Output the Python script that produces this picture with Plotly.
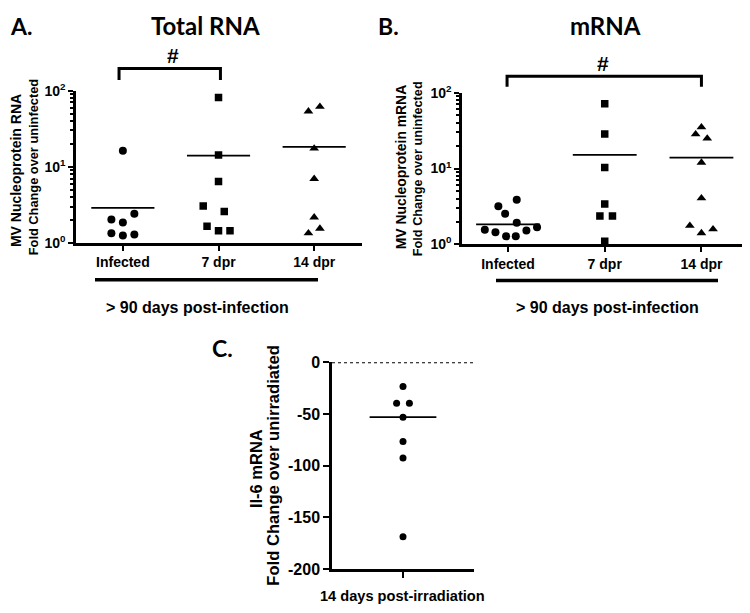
import plotly.graph_objects as go

# ---- data ----
groups = ['Infected', '7 dpr', '14 dpr']

# A. Total RNA (fold change over uninfected)
a_infected = [16.2, 2.02, 1.85, 2.41, 1.34, 1.25, 1.29]
a_7dpr = [81.5, 14.3, 6.4, 3.05, 2.58, 1.65, 1.44, 1.44]
a_14dpr = [53.5, 61.7, 17.4, 6.93, 2.16, 1.34, 1.54]
a_center = [2.88, 14.0, 18.2]

# B. mRNA (fold change over uninfected)
b_infected = [1.56, 1.45, 1.28, 1.28, 1.53, 1.68, 1.93, 2.54, 3.18, 3.87]
b_7dpr = [71.1, 28.6, 10.3, 3.41, 2.37, 2.37, 1.10]
b_14dpr = [35.1, 28.3, 24.9, 12.0, 4.07, 1.77, 1.41, 1.59]
b_center = [1.84, 15.1, 13.9]

# C. Il-6 mRNA fold change over unirradiated
c_values = [-23.4, -39.7, -39.7, -53.1, -76.6, -92.5, -168.8]
c_center = -53.1

log_ticks = [1, 10, 100]
log_ticktext = ['<b>10<sup>0</sup></b>', '<b>10<sup>1</sup></b>', '<b>10<sup>2</sup></b>']
log_minor = [2, 3, 4, 5, 6, 7, 8, 9, 20, 30, 40, 50, 60, 70, 80, 90]
c_ticks = [0, -50, -100, -150, -200]

# horizontal scatter of points inside a column (layout only)
a_jitter = [
    [0, -0.12, 0, 0.12, -0.12, 0, 0.12],
    [0, 0, 0, -0.16, 0.06, -0.12, 0, 0.12],
    [-0.06, 0.06, 0, 0, 0, -0.06, 0.06],
]
b_jitter = [
    [-0.24, -0.13, -0.02, 0.08, 0.19, 0.30, 0.09, -0.03, -0.10, 0.09],
    [0, 0, 0, 0, -0.05, 0.08, 0],
    [0, -0.06, 0.06, 0, 0, -0.12, 0, 0.12],
]
c_jitter = [0, -0.09, 0.09, 0, 0, 0, 0]

symbols = ['circle', 'square', 'triangle-up']
sizes = [8, 7.5, 8.5]
FONT = 'Arial, "Liberation Sans", sans-serif'
TITLE_FONT = 'Lato, sans-serif'
W, H = 750, 613
OFF = 8  # page margin around the figure


def X(px):
    return (px - OFF) / W


def Y(px):
    return 1 - (px - OFF) / H


fig = go.Figure()


def add_panel(series, jitter, centers, xa, ya):
    for i, vals in enumerate(series):
        fig.add_trace(go.Scatter(
            x=[i + j for j in jitter[i]], y=vals, mode='markers',
            marker=dict(symbol=symbols[i], size=sizes[i], color='black'),
            xaxis=xa, yaxis=ya, showlegend=False, hoverinfo='y'))
        fig.add_trace(go.Scatter(
            x=[i - 0.33, i + 0.33], y=[centers[i], centers[i]], mode='lines',
            line=dict(color='black', width=1.8),
            xaxis=xa, yaxis=ya, showlegend=False, hoverinfo='skip'))


add_panel([a_infected, a_7dpr, a_14dpr], a_jitter, a_center, 'x', 'y')
add_panel([b_infected, b_7dpr, b_14dpr], b_jitter, b_center, 'x2', 'y2')

fig.add_trace(go.Scatter(
    x=c_jitter, y=c_values, mode='markers',
    marker=dict(symbol='circle', size=7, color='black'),
    xaxis='x3', yaxis='y3', showlegend=False, hoverinfo='y'))
fig.add_trace(go.Scatter(
    x=[-0.47, 0.47], y=[c_center, c_center], mode='lines',
    line=dict(color='black', width=1.8),
    xaxis='x3', yaxis='y3', showlegend=False, hoverinfo='skip'))

axis_common = dict(showline=True, linecolor='black', linewidth=2.5, ticks='outside',
                   tickcolor='black', tickwidth=2, showgrid=False, zeroline=False,
                   tickfont=dict(family=FONT, size=14, color='black'))

log_axis = dict(axis_common, type='log', range=[0, 2], tickmode='array',
                tickvals=log_ticks, ticktext=log_ticktext, ticklen=5,
                tickfont=dict(family=FONT, size=14, color='black'),
                minor=dict(tickvals=log_minor, ticks='outside', ticklen=3,
                           tickcolor='black', tickwidth=1.5, showgrid=False))
cat_axis = dict(axis_common, tickmode='array', tickvals=[0, 1, 2],
                ticktext=[f'<b>{g}</b>' for g in groups], ticklen=5)

fig.update_layout(
    width=W, height=H,
    margin=dict(l=0, r=0, t=0, b=0),
    paper_bgcolor='white', plot_bgcolor='white',
    xaxis=dict(cat_axis, domain=[X(76), X(362)], range=[-0.49, 2.5], anchor='y'),
    yaxis=dict(log_axis, domain=[Y(240), Y(83)], anchor='x'),
    xaxis2=dict(cat_axis, domain=[X(462), 1.0], range=[-0.476, 2.585], anchor='y2'),
    yaxis2=dict(log_axis, domain=[Y(241.7), Y(85)], anchor='x2'),
    xaxis3=dict(axis_common, domain=[X(332), X(474)], range=[-1, 1], anchor='y3',
                tickmode='array', tickvals=[0], showticklabels=False, ticklen=6),
    yaxis3=dict(axis_common, domain=[Y(576.7), Y(363.3)], range=[-200, 0], anchor='x3',
                tickmode='array', tickvals=c_ticks, ticktext=[f'<b>{v}</b>' for v in c_ticks],
                ticklen=6, tickfont=dict(family=FONT, size=16, color='black')),
)

# significance brackets
bracket = dict(type='path', xref='x', yref='paper', line=dict(color='black', width=3))
fig.add_shape(bracket, path=f'M -0.04,{Y(72)} L -0.04,{Y(60)} L 1.02,{Y(60)} L 1.02,{Y(72)}')
fig.add_shape(dict(bracket, xref='x2'),
              path=f'M -0.01,{Y(79)} L -0.01,{Y(68)} L 2.0,{Y(68)} L 2.0,{Y(79)}')

# group underlines
for x0, x1, yy in [(95, 318, 278), (496, 718, 279)]:
    fig.add_shape(type='line', xref='paper', yref='paper', x0=X(x0), x1=X(x1),
                  y0=Y(yy), y1=Y(yy), line=dict(color='black', width=3.5))

# zero reference line in C
fig.add_shape(type='line', xref='x3', yref='y3', x0=-1, x1=1, y0=0, y1=0,
              line=dict(color='black', width=2, dash='dot'))

# text, x, y (page px), size, font, angle, anchor
ann = [
    ('A.', 8, 16, 23, TITLE_FONT, 0, 'left'),
    ('Total RNA', 205, 16, 24, TITLE_FONT, 0, 'center'),
    ('B.', 388.5, 16, 23, TITLE_FONT, 0, 'center'),
    ('mRNA', 605, 16, 24, TITLE_FONT, 0, 'center'),
    ('C.', 222, 349, 23, TITLE_FONT, 0, 'center'),
    ('#', 173, 47, 21, FONT, 0, 'center'),
    ('#', 603, 55, 21, FONT, 0, 'center'),
    ('&gt; 90 days post-infection', 197, 307, 16, FONT, 0, 'center'),
    ('&gt; 90 days post-infection', 607, 307, 16, FONT, 0, 'center'),
    ('14 days post-irradiation', 403, 604, 14.6, FONT, 0, 'center'),
    ('MV Nucleoprotein RNA', 16, 166, 14, FONT, -90, 'center'),
    ('Fold Change over uninfected', 33, 162, 12.8, FONT, -90, 'center'),
    ('MV Nucleoprotein mRNA', 400.5, 162.5, 13.9, FONT, -90, 'center'),
    ('Fold Change over uninfected', 418, 164, 12.7, FONT, -90, 'center'),
    ('Il-6 mRNA', 255.5, 473, 16.5, FONT, -90, 'center'),
    ('Fold Change over unirradiated', 274, 470, 16.6, FONT, -90, 'center'),
]
for text, x, y, size, fam, angle, anchor in ann:
    fig.add_annotation(text=f'<b>{text}</b>', x=max(X(x), 0), y=Y(y),
                       xref='paper', yref='paper',
                       showarrow=False, xanchor=anchor, yanchor='middle',
                       textangle=angle, font=dict(family=fam, size=size, color='black'))

fig.write_html("out.html")
